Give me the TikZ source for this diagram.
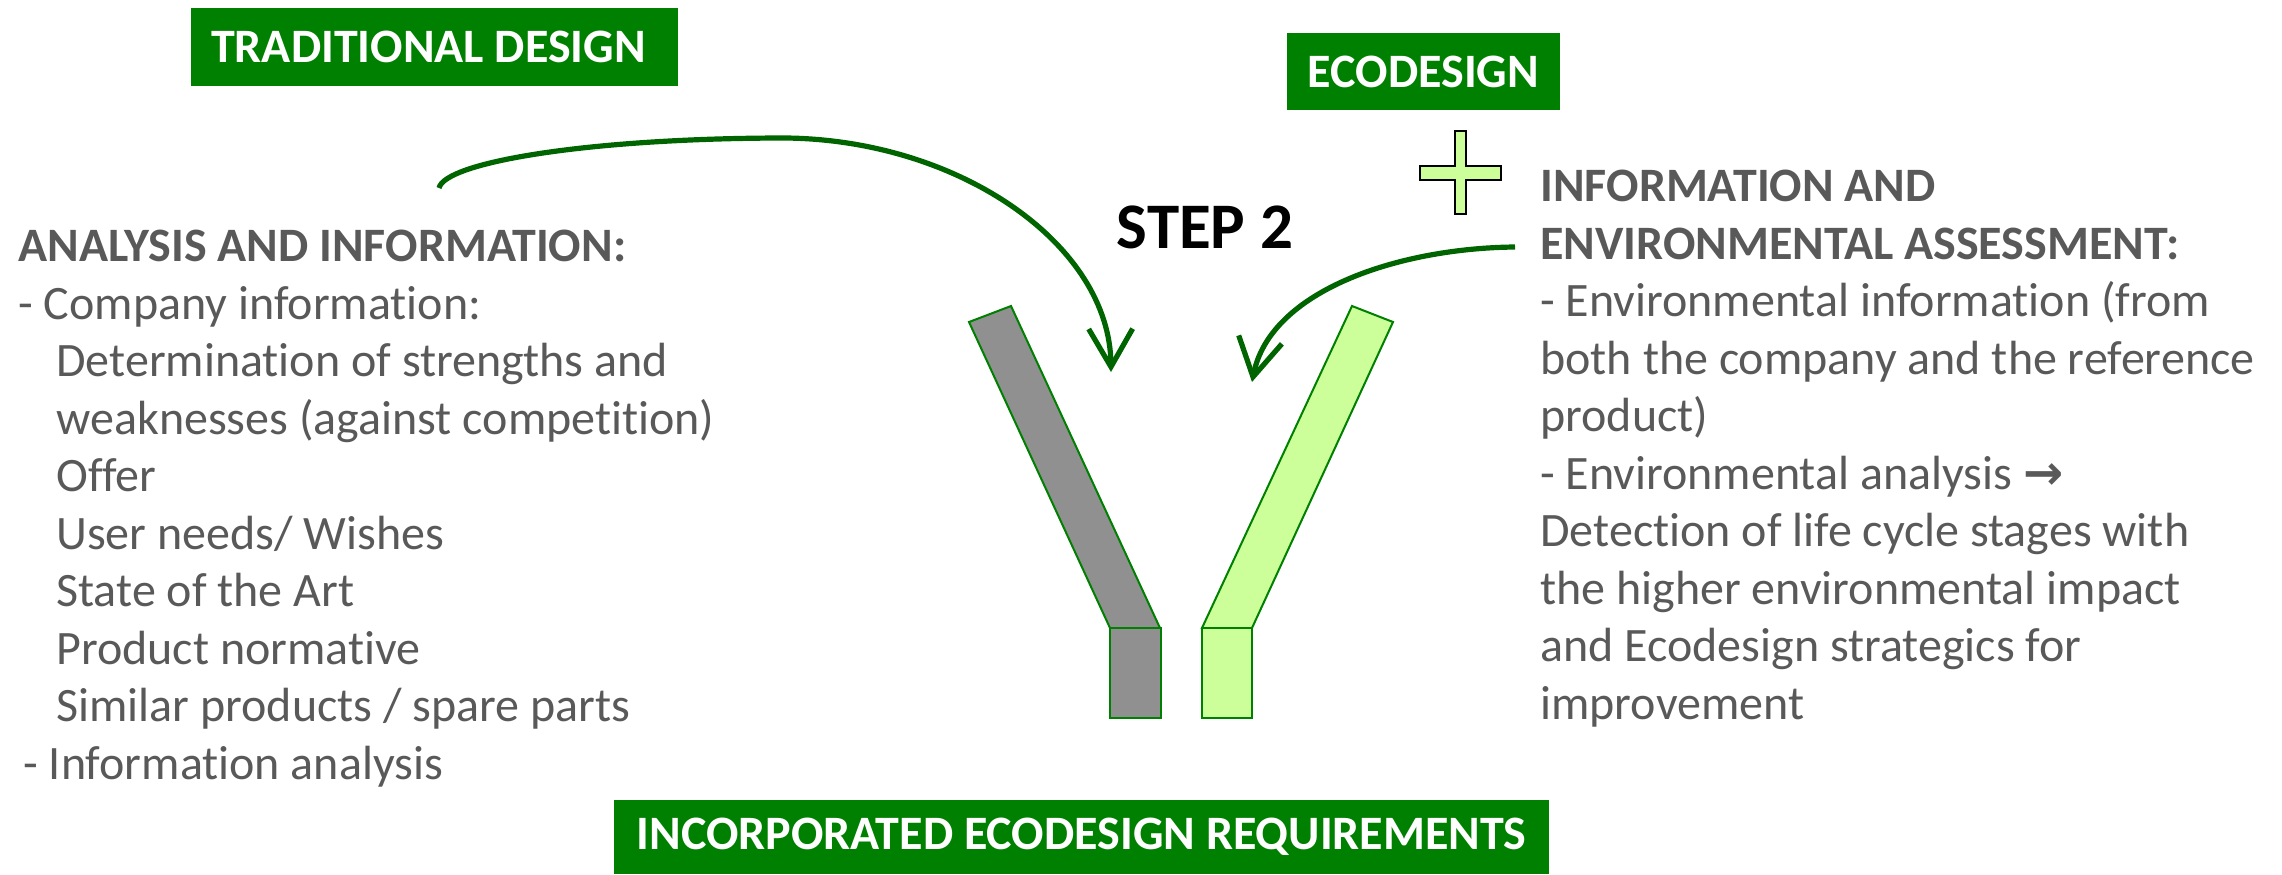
\documentclass[tikz,border=0pt]{standalone}
\usepackage{fontspec}
\setmainfont{Carlito}[RawFeature={-liga;-clig;-calt;-dlig}]
\newfontfamily\symfont{DejaVu Sans}
\usetikzlibrary{arrows.meta,positioning}

\definecolor{boxgreen}{RGB}{0,128,0}
\definecolor{arrowgreen}{RGB}{0,100,0}
\definecolor{barline}{RGB}{0,128,0}
\definecolor{bargray}{RGB}{144,144,144}
\definecolor{barlight}{RGB}{204,255,153}
\definecolor{textgray}{RGB}{89,89,89}

\tikzset{
  greenbox/.style={fill=boxgreen, text=white, inner sep=0pt,
    font=\fontsize{24}{28}\selectfont\bfseries},
  infotext/.style={align=left, inner sep=0pt, anchor=north west, text=textgray,
    font=\fontsize{24}{28.75}\selectfont},
  feedarrow/.style={draw=arrowgreen, line width=2.6pt,
    -{Straight Barb[length=19pt, width=22pt]}},
  barpart/.style={draw=barline, line width=1pt},
  plusmark/.style={draw=black, fill=barlight, line width=1.3pt}
}

\begin{document}
\begin{tikzpicture}[x=0.5pt, y=-0.5pt]
\useasboundingbox (0,0) rectangle (2282,874);

% Kopfzeilen
\node[greenbox, minimum width=243.5pt, minimum height=39pt] (tradbox) at (434.5,47) {TRADITIONAL DESIGN\hspace*{6pt}};
\node[greenbox, minimum width=136.5pt, minimum height=38.5pt] (ecobox) at (1423.5,71.5) {ECODESIGN};
\node[greenbox, minimum width=467.5pt, minimum height=37pt] (reqbox) at (1081.5,837) {INCORPORATED ECODESIGN REQUIREMENTS};

\node[anchor=base, font=\fontsize{32.5}{36}\selectfont\bfseries] (step) at (1205,248) {STEP 2};

% Plus
\draw[plusmark] (1455,131) -- (1466,131) -- (1466,166) -- (1501,166) -- (1501,180) -- (1466,180)
  -- (1466,214) -- (1455,214) -- (1455,180) -- (1420,180) -- (1420,166) -- (1455,166) -- cycle;

% linke Spalte
\node[infotext] (tradinfo) at (18,230) {
\textbf{ANALYSIS AND INFORMATION:}\\
- Company information:\\
\hspace*{19pt}Determination of strengths and\\
\hspace*{19pt}weaknesses (against competition)\\
\hspace*{19pt}Offer\\
\hspace*{19pt}User needs/ Wishes\\
\hspace*{19pt}State of the Art\\
\hspace*{19pt}Product normative\\
\hspace*{19pt}Similar products / spare parts\\
\hspace*{2.5pt}- Information analysis
};

% rechte Spalte
\node[infotext] (ecoinfo) at (1540,170) {
\textbf{INFORMATION AND}\\
\textbf{ENVIRONMENTAL ASSESSMENT:}\\
- Environmental information (from\\
both the company and the reference\\
product)\\
- Environmental analysis {\symfont\bfseries →}\\
Detection of life cycle stages with\\
the higher environmental impact\\
and Ecodesign strategics for\\
improvement
};

% Balken
\draw[barpart, fill=bargray] (969,322) -- (1011,306) -- (1160,628) -- (1110,628) -- cycle;
\draw[barpart, fill=bargray] (1110,628) rectangle (1161,718);
\draw[barpart, fill=barlight] (1352,306) -- (1393,322) -- (1252,628) -- (1202,628) -- cycle;
\draw[barpart, fill=barlight] (1202,628) rectangle (1252,718);

% Pfeile
\coordinate (tradfrom) at (439,188);
\coordinate (tradto) at (1111,372);
\coordinate (ecofrom) at (1515,247);
\coordinate (ecoto) at (1252,382);
\draw[feedarrow] (tradfrom) .. controls (445,162) and (590,138) .. (786,138)
  .. controls (960,140) and (1110,245) .. (tradto);
\draw[feedarrow] (ecofrom) .. controls (1400,248) and (1270,290) .. (ecoto);
\end{tikzpicture}
\end{document}
